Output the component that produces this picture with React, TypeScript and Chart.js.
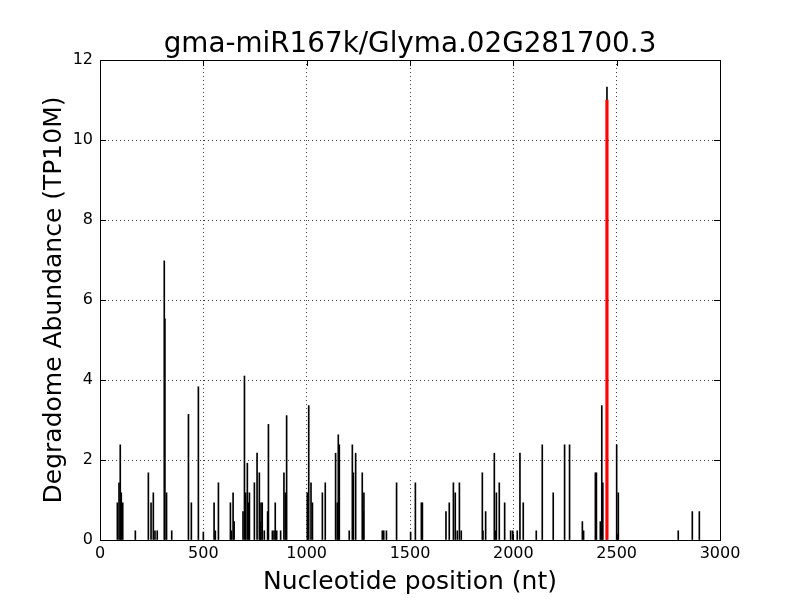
import { useEffect, useRef } from "react";
import { Chart, registerables } from "chart.js";

Chart.register(...registerables);

const chartTitle = "gma-miR167k/Glyma.02G281700.3";
const xAxisLabel = "Nucleotide position (nt)";
const yAxisLabel = "Degradome Abundance (TP10M)";

const positions = [
  84, 92, 98, 103, 110, 171, 234, 247, 258, 266, 277, 311, 314, 322, 347, 428, 442, 476,
  500, 552, 558, 573, 631, 636, 644, 649, 692, 699, 705, 713, 718, 723, 747, 760, 771, 776,
  779, 785, 795, 811, 815, 834, 842, 848, 855, 874, 890, 897, 903, 1003, 1010, 1021, 1028,
  1076, 1090, 1140, 1148, 1153, 1158, 1206, 1221, 1226, 1237, 1269, 1274, 1277, 1366, 1373,
  1386, 1435, 1503, 1526, 1555, 1560, 1674, 1690, 1710, 1719, 1729, 1739, 1748, 1850, 1853,
  1866, 1908, 1912, 1918, 1932, 1958, 1987, 1997, 2019, 2032, 2048, 2111, 2140, 2193, 2248,
  2272, 2334, 2340, 2397, 2402, 2421, 2428, 2433, 2453, 2500, 2508, 2798, 2866, 2900,
];
const abundances = [
  0.93, 1.43, 2.38, 1.18, 0.93, 0.23, 1.68, 0.93, 1.18, 0.23, 0.23, 6.98, 5.53, 1.18, 0.23, 3.14, 0.93, 3.83,
  0.2, 0.93, 0.23, 1.43, 0.93, 0.23, 1.18, 0.46, 0.71, 4.1, 1.18, 1.92, 0.93, 1.18, 1.43, 2.17, 1.68, 0.46,
  0.93, 0.93, 0.23, 0.71, 2.89, 0.23, 0.23, 0.93, 0.23, 0.23, 1.68, 1.18, 3.11, 1.18, 3.36, 1.43, 0.93,
  1.18, 1.43, 2.17, 0.93, 2.63, 2.38, 0.23, 2.38, 1.68, 2.17, 1.68, 0.71, 1.18, 0.23, 0.23,
  0.23, 1.43, 0.2, 1.43, 0.93, 0.93, 0.71, 0.93, 1.43, 1.18, 0.23, 1.43, 0.23, 1.68, 0.23,
  0.71, 2.17, 0.23, 1.18, 1.43, 0.93, 0.23, 0.23, 0.23, 2.17, 0.93, 0.23, 2.38, 1.18, 2.38,
  2.38, 0.46, 0.23, 1.68, 1.68, 0.46, 3.36, 1.43, 11.32, 2.38, 1.18, 0.23, 0.71, 0.71,
];

const sitePositions = [2453];
const siteAbundances = [11.0];

const xTicks = [0, 500, 1000, 1500, 2000, 2500, 3000];
const yTicks = [0, 2, 4, 6, 8, 10, 12];

const FONT = "'DejaVu Sans', sans-serif";

export default function App() {
  const ref = useRef<HTMLCanvasElement | null>(null);

  useEffect(() => {
    document.body.style.margin = "0";
    const canvas = ref.current;
    if (!canvas) return;

    const framePlugin = {
      id: "frame",
      afterDraw(chart: any) {
        const { ctx, chartArea } = chart;
        const { left, right, top, bottom } = chartArea;
        const xs = chart.scales.x;
        const ys = chart.scales.y;
        ctx.save();
        ctx.strokeStyle = "#000";
        ctx.lineWidth = 1;
        ctx.strokeRect(Math.round(left) + 0.5, Math.round(top) + 0.5, Math.round(right - left), Math.round(bottom - top));
        const tl = 6;
        ctx.beginPath();
        for (const t of xTicks) {
          const px = Math.round(xs.getPixelForValue(t)) + 0.5;
          ctx.moveTo(px, bottom);
          ctx.lineTo(px, bottom - tl);
          ctx.moveTo(px, top);
          ctx.lineTo(px, top + tl);
        }
        for (const t of yTicks) {
          const py = Math.round(ys.getPixelForValue(t)) + 0.5;
          ctx.moveTo(left, py);
          ctx.lineTo(left + tl, py);
          ctx.moveTo(right, py);
          ctx.lineTo(right - tl, py);
        }
        ctx.stroke();

        ctx.fillStyle = "#000";
        ctx.textAlign = "center";
        ctx.textBaseline = "alphabetic";
        ctx.font = `27.8px ${FONT}`;
        ctx.fillText(chartTitle, (left + right) / 2, 52);
        ctx.font = `25px ${FONT}`;
        ctx.fillText(xAxisLabel, (left + right) / 2, 589);
        ctx.save();
        ctx.translate(61, (top + bottom) / 2);
        ctx.rotate(-Math.PI / 2);
        ctx.fillText(yAxisLabel, 0, 0);
        ctx.restore();
        ctx.restore();
      },
    };

    const chart = new Chart(canvas, {
      type: "bar",
      data: {
        datasets: [
          {
            label: "site",
            data: sitePositions.map((p, i) => ({ x: p, y: siteAbundances[i] })),
            backgroundColor: "#ff0000",
            borderWidth: 0,
            barThickness: 2.5,
            order: 0,
          },
          {
            label: "abundance",
            data: positions.map((p, i) => ({ x: p, y: abundances[i] })),
            backgroundColor: "#000",
            borderWidth: 0,
            barThickness: 1,
            order: 1,
          },
        ],
      },
      plugins: [framePlugin],
      options: {
        animation: false,
        responsive: false,
        devicePixelRatio: 1,
        grouped: false,
        layout: { padding: { left: 0, right: 80, top: 60, bottom: 0 } },
        plugins: {
          legend: { display: false },
          tooltip: { enabled: false },
          title: { display: false },
        },
        scales: {
          x: {
            type: "linear",
            min: 0,
            max: 3000,
            offset: false,
            afterFit: (s: any) => {
              s.height = 60;
            },
            afterBuildTicks: (s: any) => {
              s.ticks = xTicks.map((v) => ({ value: v }));
            },
            ticks: {
              color: "#000",
              font: { family: FONT, size: 16 },
              padding: 4,
              maxRotation: 0,
              autoSkip: false,
              callback: (v: any) => String(v),
            },
            grid: {
              color: "rgba(0,0,0,0.75)",
              lineWidth: 1,
              drawTicks: false,
              offset: false,
            },
            border: { display: false, dash: [1, 3] },
          },
          y: {
            type: "linear",
            min: 0,
            max: 12,
            afterFit: (s: any) => {
              s.width = 100;
            },
            afterBuildTicks: (s: any) => {
              s.ticks = yTicks.map((v) => ({ value: v }));
            },
            ticks: {
              color: "#000",
              font: { family: FONT, size: 16 },
              padding: 7,
              autoSkip: false,
              callback: (v: any) => String(v),
            },
            grid: {
              color: "rgba(0,0,0,0.75)",
              lineWidth: 1,
              drawTicks: false,
            },
            border: { display: false, dash: [1, 3] },
          },
        },
      } as any,
    });

    return () => {
      chart.destroy();
    };
  }, []);

  return <canvas ref={ref} width={800} height={600} style={{ display: "block" }} />;
}
